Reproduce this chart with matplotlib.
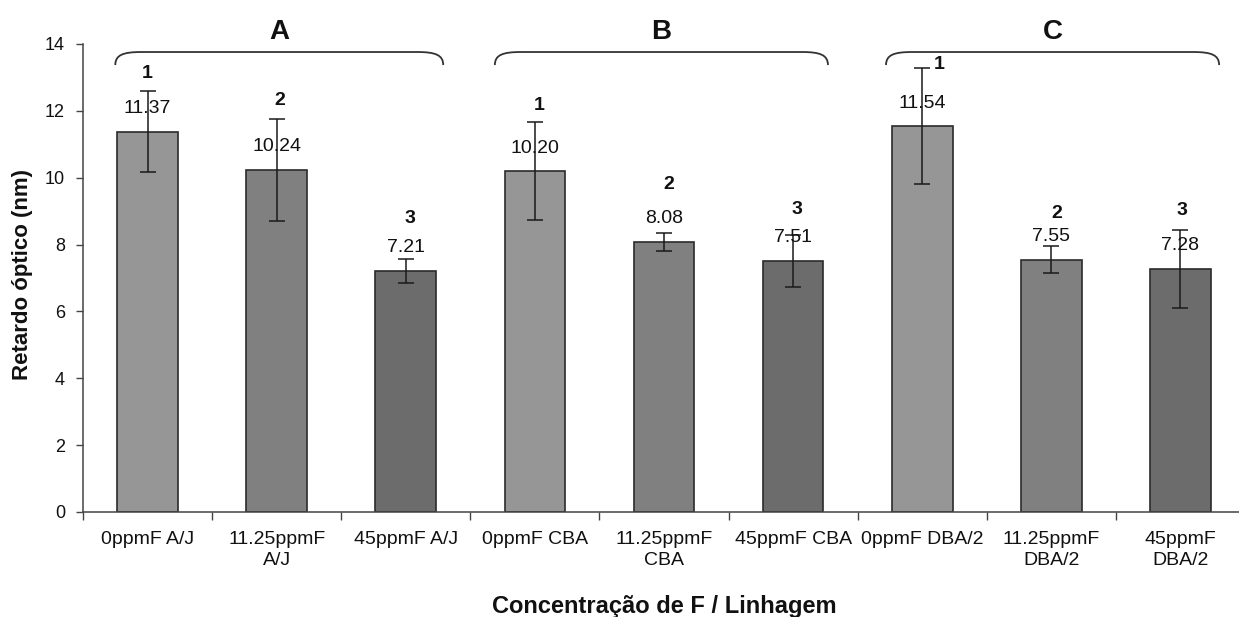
import numpy as np
import matplotlib.pyplot as plt
from matplotlib.path import Path
from matplotlib.patches import PathPatch

plt.rcParams['font.family'] = ['Liberation Sans', 'DejaVu Sans']

# Optical retardation per fluoride concentration and mouse strain
labels = ['0ppmF A/J', '11.25ppmF\nA/J', '45ppmF A/J',
          '0ppmF CBA', '11.25ppmF\nCBA', '45ppmF CBA',
          '0ppmF DBA/2', '11.25ppmF\nDBA/2', '45ppmF\nDBA/2']
means = [11.37, 10.24, 7.21, 10.20, 8.08, 7.51, 11.54, 7.55, 7.28]
errors = [1.21, 1.53, 0.35, 1.48, 0.28, 0.77, 1.74, 0.41, 1.17]
ranks = ['1', '2', '3', '1', '2', '3', '1', '2', '3']
rank_y = [13.13, 12.32, 8.79, 12.17, 9.81, 9.06, 13.40, 8.94, 9.03]
rank_dx = [0.0, 0.02, 0.03, 0.03, 0.04, 0.03, 0.13, 0.04, 0.01]
groups = ['A', 'B', 'C']
group_spans = [(-0.25, 2.29), (2.69, 5.27), (5.72, 8.30)]

bar_colors = ['#969696', '#808080', '#6c6c6c'] * 3

fig = plt.figure(figsize=(12.39, 6.17), dpi=100)
ax = fig.add_axes([0.067, 0.1702, 0.9378, 0.7585])

x = np.arange(len(means))
ax.bar(x, means, width=0.47, color=bar_colors, edgecolor='#2b2b2b', linewidth=1.2, zorder=2)
ax.errorbar(x, means, yerr=errors, fmt='none', ecolor='#1a1a1a', elinewidth=1.1,
            capsize=6, capthick=1.1, zorder=3)

# value labels above each bar
for xi, m in zip(x, means):
    ax.annotate(f'{m:.2f}', (xi, m), xytext=(0, 23), textcoords='offset pixels',
                ha='center', va='center', fontsize=14, color='#111111', zorder=4)

# significance ranks
for xi, r, ry, dx in zip(x, ranks, rank_y, rank_dx):
    ax.text(xi + dx, ry, r, ha='center', va='center', fontsize=14,
            fontweight='bold', color='#111111')

# group braces with letters
y_top, y_end = 13.76, 13.37
for g, (x0, x1) in zip(groups, group_spans):
    r = 0.2
    verts = [(x0, y_end), (x0, y_end + 0.3), (x0 + 0.06, y_top), (x0 + r, y_top),
             (x1 - r, y_top),
             (x1 - 0.06, y_top), (x1, y_end + 0.3), (x1, y_end)]
    codes = [Path.MOVETO, Path.CURVE4, Path.CURVE4, Path.CURVE4,
             Path.LINETO,
             Path.CURVE4, Path.CURVE4, Path.CURVE4]
    ax.add_patch(PathPatch(Path(verts, codes), fill=False, edgecolor='#333333',
                           linewidth=1.3, clip_on=False))
    ax.text((x0 + x1) / 2, 14.36, g, ha='center', va='center', fontsize=20,
            fontweight='bold', color='#111111', clip_on=False)

ax.set_xlim(-0.5, 8.5)
ax.set_ylim(0, 14)
ax.set_yticks(np.arange(0, 15, 2))
ax.tick_params(axis='y', direction='out', length=5, width=1, color='#444444',
               labelsize=13, pad=8, labelcolor='#111111')

# boundary ticks between categories, labels at category centres
ax.set_xticks(np.arange(-0.5, 9, 1))
ax.set_xticklabels([])
ax.tick_params(axis='x', which='major', direction='out', length=6, width=1, color='#444444')
ax.set_xticks(x, minor=True)
ax.set_xticklabels(labels, minor=True, fontsize=14, color='#111111', linespacing=1.25)
ax.tick_params(axis='x', which='minor', length=0, pad=14)

for side in ['top', 'right']:
    ax.spines[side].set_visible(False)
for side in ['left', 'bottom']:
    ax.spines[side].set_color('#444444')
    ax.spines[side].set_linewidth(1.1)

fig.text(23 / 1239, 1 - 275 / 617, 'Retardo óptico (nm)', rotation=90, ha='center',
         va='center', fontsize=16, fontweight='bold', color='#111111')
fig.text(664 / 1239, 1 - 606 / 617, 'Concentração de F / Linhagem', ha='center',
         va='center', fontsize=17, fontweight='bold', color='#111111')

fig.savefig('out.png', dpi=100)
